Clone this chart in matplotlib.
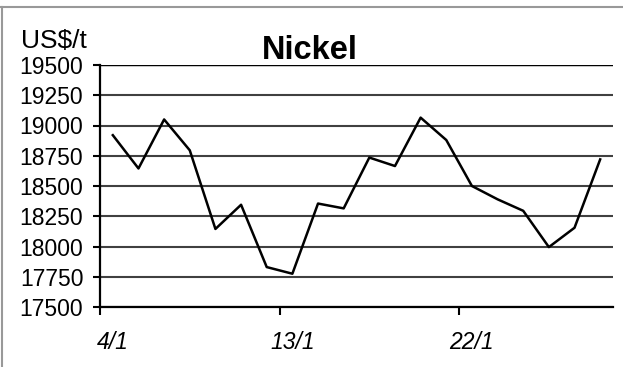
import matplotlib
matplotlib.use("Agg")
import matplotlib.pyplot as plt
from matplotlib.lines import Line2D

plt.rcParams['font.family'] = ['Liberation Sans', 'DejaVu Sans']

# Nickel price, US$/t, trading days from 4/1
prices = [18920, 18645, 19050, 18795, 18145, 18345, 17830, 17775, 18355, 18315,
          18735, 18665, 19065, 18880, 18500, 18390, 18295, 17995, 18155, 18720]
tick_labels = ["4/1", "13/1", "22/1"]
label_pos = [0, 7, 14]
yticks = [17500, 17750, 18000, 18250, 18500, 18750, 19000, 19250, 19500]

fig = plt.figure(figsize=(6.23, 3.67), dpi=100)
ax = fig.add_axes([100 / 623, 1 - 307 / 367, 513 / 623, 242 / 367])

x = list(range(len(prices)))
ax.plot(x, prices, color="black", lw=1.8, zorder=3)

ax.set_xlim(-0.5, len(prices) - 0.5)
ax.set_ylim(17500, 19500)
ax.set_yticks(yticks)
ax.set_yticklabels([str(v) for v in yticks], fontsize=16.5)
ax.yaxis.grid(True, color="#404040", lw=1.5)
ax.set_axisbelow(True)

# tick marks between categories, labels on the categories
ax.set_xticks([p - 0.5 for p in label_pos])
ax.set_xticklabels([])
ax.set_xticks(label_pos, minor=True)
ax.set_xticklabels(tick_labels, minor=True, fontsize=16.5, style="italic")
ax.tick_params(axis="x", which="major", length=6, width=1.5, direction="out")
ax.tick_params(axis="x", which="minor", length=0, pad=17)
ax.tick_params(axis="y", length=5, width=1.5, pad=7)

for side in ["top", "right"]:
    ax.spines[side].set_visible(False)
for side in ["left", "bottom"]:
    ax.spines[side].set_linewidth(1.6)
ax.axhline(19500, color="black", lw=1.0)

fig.text(310 / 623, 1 - 59 / 367, "Nickel", fontsize=23.5, fontweight="bold",
         ha="center", va="baseline")
fig.text(21 / 623, 1 - 48 / 367, "US$/t", fontsize=19, ha="left", va="baseline")

# frame of the scanned picture
fig.add_artist(Line2D([0, 1], [1 - 7 / 367, 1 - 7 / 367], color="#999999", lw=1.5,
                      transform=fig.transFigure))
fig.add_artist(Line2D([2 / 623, 2 / 623], [0, 1 - 7 / 367], color="#999999", lw=1.5,
                      transform=fig.transFigure))

fig.savefig("out.png", dpi=100)
